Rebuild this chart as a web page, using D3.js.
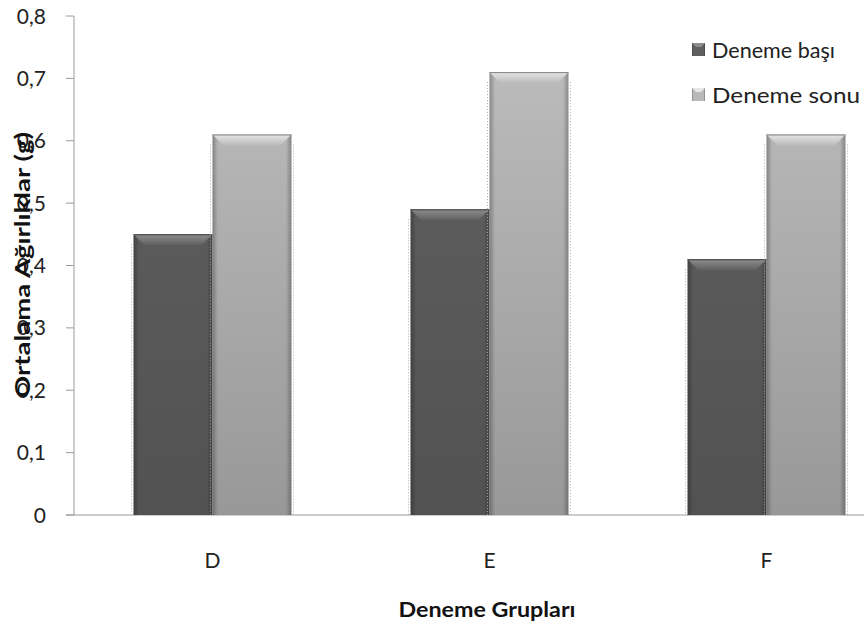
<!DOCTYPE html>
<html><head><meta charset="utf-8">
<script src="https://cdn.jsdelivr.net/npm/d3@7"></script>
<style>body{margin:0;background:#fff}svg{display:block}</style>
</head><body><svg id="c" width="864" height="630"></svg>
<script>
const categories = ["D", "E", "F"];
const seriesNames = ["Deneme başı", "Deneme sonu"];
const basiValues = [0.45, 0.49, 0.41];
const sonuValues = [0.61, 0.71, 0.61];
const yTicks = [0, 0.1, 0.2, 0.3, 0.4, 0.5, 0.6, 0.7, 0.8];
const yTickLabels = ["0", "0,1", "0,2", "0,3", "0,4", "0,5", "0,6", "0,7", "0,8"];

(function () {
const svg = d3.select("#c");
const font = "Lato, 'Open Sans', sans-serif";
const plotLeft = 74, plotTop = 16, plotBottom = 515, plotRight = 905;

const x = d3.scaleBand().domain(categories).range([plotLeft, plotRight]).paddingInner(0.43).paddingOuter(0.215);
const xs = d3.scaleBand().domain(seriesNames).range([0, x.bandwidth()]);
const y = d3.scaleLinear().domain([0, 0.8]).range([plotBottom, plotTop]);

const defs = svg.append("defs");
const palettes = [
  {top: "#5f5f5f", bottom: "#525252", edge: "#404040", hi: "#8e8e8e"},
  {top: "#bababa", bottom: "#989898", edge: "#808080", hi: "#e6e6e6"}
];
palettes.forEach((p, i) => {
  const v = defs.append("linearGradient").attr("id", "vg" + i)
    .attr("gradientUnits", "userSpaceOnUse").attr("x1", 0).attr("x2", 0).attr("y1", y(0.7)).attr("y2", plotBottom);
  v.append("stop").attr("offset", 0).attr("stop-color", p.top);
  v.append("stop").attr("offset", 1).attr("stop-color", p.bottom);
  const t = defs.append("linearGradient").attr("id", "tg" + i).attr("x1", 0).attr("x2", 0).attr("y1", 0).attr("y2", 1);
  t.append("stop").attr("offset", 0).attr("stop-color", p.hi);
  t.append("stop").attr("offset", 1).attr("stop-color", p.top);
});
const side = defs.append("linearGradient").attr("id", "side").attr("x1", 0).attr("x2", 1);
[[0, 0.45], [0.07, 0], [0.93, 0], [1, 0.45]].forEach(([o, a]) =>
  side.append("stop").attr("offset", o).attr("stop-color", "#000").attr("stop-opacity", a));

// y axis
const yAxis = svg.append("g");
yAxis.append("line").attr("x1", plotLeft).attr("x2", plotLeft).attr("y1", plotTop).attr("y2", plotBottom).attr("stroke", "#9a9a9a");
yAxis.selectAll("line.t").data(yTicks).join("line").attr("class", "t")
  .attr("x1", plotLeft - 8).attr("x2", plotLeft).attr("y1", d => y(d)).attr("y2", d => y(d)).attr("stroke", "#9a9a9a");
yAxis.selectAll("text").data(yTicks).join("text")
  .attr("x", plotLeft - 28).attr("y", d => y(d)).attr("dy", "0.36em").attr("text-anchor", "end")
  .attr("font-family", font).attr("font-size", 21).attr("fill", "#222")
  .text((d, i) => yTickLabels[i]);
// x axis line
svg.append("line").attr("x1", plotLeft - 8).attr("x2", 864).attr("y1", plotBottom).attr("y2", plotBottom).attr("stroke", "#9a9a9a");

// bars
const rows = categories.map((c, i) => ({c, vals: [basiValues[i], sonuValues[i]]}));
const bev = 11;
rows.forEach(r => {
  r.vals.forEach((v, si) => {
    const x0 = x(r.c) + xs(seriesNames[si]);
    const w = xs.bandwidth();
    const y0 = y(v);
    const g = svg.append("g");
    // dotted shadow edges
    g.append("line").attr("x1", x0 - 2).attr("x2", x0 - 2).attr("y1", y0 + 10).attr("y2", plotBottom)
      .attr("stroke", "#aaa").attr("stroke-dasharray", "1,2");
    g.append("line").attr("x1", x0 + w + 2).attr("x2", x0 + w + 2).attr("y1", y0 + 10).attr("y2", plotBottom)
      .attr("stroke", "#aaa").attr("stroke-dasharray", "1,2");
    g.append("rect").attr("x", x0).attr("y", y0).attr("width", w).attr("height", plotBottom - y0)
      .attr("fill", `url(#vg${si})`);
    g.append("rect").attr("x", x0).attr("y", y0).attr("width", w).attr("height", plotBottom - y0)
      .attr("fill", "url(#side)").attr("opacity", 0.6);
    g.append("path").attr("d", `M${x0},${y0}L${x0 + w},${y0}L${x0 + w - bev},${y0 + bev}L${x0 + bev},${y0 + bev}Z`)
      .attr("fill", `url(#tg${si})`);
    g.append("line").attr("x1", x0).attr("x2", x0 + w).attr("y1", y0 + 0.5).attr("y2", y0 + 0.5)
      .attr("stroke", palettes[si].edge);
  });
});

// category labels
svg.selectAll("text.cat").data(categories).join("text").attr("class", "cat")
  .attr("x", d => x(d) + x.bandwidth() / 2).attr("y", 560).attr("dy", "0.36em").attr("text-anchor", "middle")
  .attr("font-family", font).attr("font-size", 21).attr("fill", "#222").text(d => d);

// axis titles
svg.append("text").attr("x", 487).attr("y", 609).attr("dy", "0.36em").attr("text-anchor", "middle")
  .attr("font-family", font).attr("font-size", 21).attr("font-weight", "bold").attr("fill", "#111")
  .attr("textLength", 177).attr("lengthAdjust", "spacingAndGlyphs")
  .text("Deneme Grupları");
svg.append("text").attr("transform", "translate(22,265) rotate(-90)").attr("dy", "0.36em").attr("text-anchor", "middle")
  .attr("font-family", font).attr("font-size", 21).attr("font-weight", "bold").attr("fill", "#111")
  .attr("textLength", 266).attr("lengthAdjust", "spacingAndGlyphs")
  .text("Ortalama Ağırlıklar (g)");

// legend
const leg = svg.append("g");
const legLen = [123, 148];
seriesNames.forEach((s, i) => {
  const ly = 50 + i * 45;
  leg.append("rect").attr("x", 692).attr("y", ly - 7).attr("width", 13).attr("height", 13).attr("fill", `url(#vg${i})`);
  leg.append("rect").attr("x", 692).attr("y", ly - 7).attr("width", 13).attr("height", 13).attr("fill", "url(#side)");
  leg.append("path").attr("d", `M692,${ly - 7}L705,${ly - 7}L701,${ly - 3}L696,${ly - 3}Z`).attr("fill", palettes[i].hi);
  leg.append("text").attr("x", 712).attr("y", ly).attr("dy", "0.36em").attr("font-family", font)
    .attr("font-size", 21).attr("fill", "#222")
    .attr("textLength", legLen[i]).attr("lengthAdjust", "spacingAndGlyphs").text(s);
});
})();
</script></body></html>
